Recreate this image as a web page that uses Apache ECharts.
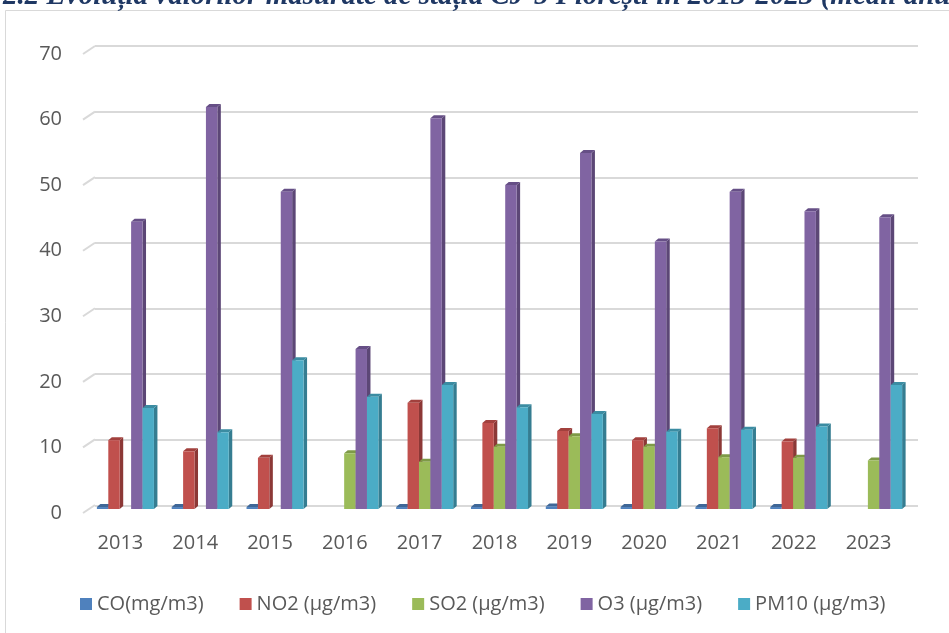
<!DOCTYPE html>
<html>
<head>
<meta charset="utf-8">
<script src="https://cdn.jsdelivr.net/npm/echarts@6/dist/echarts.min.js"></script>
<style>
html,body{margin:0;padding:0;background:#fff;}
#c{width:949px;height:633px;}
</style>
</head>
<body>
<div id="c"></div>
<script>
var years = ['2013','2014','2015','2016','2017','2018','2019','2020','2021','2022','2023'];
var seriesNames = ['CO(mg/m3)','NO2 (µg/m3)','SO2 (µg/m3)','O3 (µg/m3)','PM10 (µg/m3)'];
var coVals   = [0.3, 0.3, 0.3, null, 0.3, 0.3, 0.4, 0.3, 0.3, 0.3, null];
var no2Vals  = [10.5, 8.8, 7.8, null, 16.2, 13.1, 11.9, 10.5, 12.3, 10.3, null];
var so2Vals  = [null, null, null, 8.5, 7.2, 9.5, 11.1, 9.5, 7.9, 7.8, 7.4];
var o3Vals   = [43.8, 61.3, 48.4, 24.4, 59.6, 49.4, 54.3, 40.8, 48.4, 45.4, 44.5];
var pm10Vals = [15.4, 11.7, 22.7, 17.1, 18.9, 15.5, 14.5, 11.8, 12.1, 12.6, 18.9];
var yTicks = [0, 10, 20, 30, 40, 50, 60, 70];

var allVals = [coVals, no2Vals, so2Vals, o3Vals, pm10Vals];
var frontColors = ['#4F81BD','#C0504D','#9BBB59','#8064A2','#4BACC6'];
var sideColors  = ['#385D8A','#8C3836','#71893F','#5C4776','#357D91'];
var topColors   = ['#3F6797','#A2403D','#7E9A47','#664F86','#3B8CA2'];

var DX = 5, DY = -4;
var DEPTH_X = 3.5, DEPTH_Y = 3;

function makeRender(idx){
  return function(params, api){
    var cat = api.value(0), val = api.value(1);
    var base = api.coord([cat, 0]);
    var top = api.coord([cat, val]);
    var band = api.size([1, 0])[0];
    var bw = band * 0.1525;
    var x = base[0] - bw * 2.5 + idx * bw + DX;
    var yb = base[1] + DY, yt = top[1] + DY;
    var children = [];
    children.push({type:'polygon', shape:{points:[[x+bw,yt],[x+bw+DEPTH_X,yt-DEPTH_Y],[x+bw+DEPTH_X,yb-DEPTH_Y],[x+bw,yb]]},
      style:{fill:sideColors[idx]}});
    children.push({type:'polygon', shape:{points:[[x,yt],[x+bw,yt],[x+bw+DEPTH_X,yt-DEPTH_Y],[x+DEPTH_X,yt-DEPTH_Y]]},
      style:{fill:topColors[idx]}});
    children.push({type:'rect', shape:{x:x, y:yt, width:bw, height:Math.max(yb-yt,0)},
      style:{fill:frontColors[idx]}});
    return {type:'group', children:children};
  };
}

function stubRender(params, api){
  var v = api.value(0);
  var p = api.coord([0, v]);
  var x0 = params.coordSys.x;
  return {type:'line', shape:{x1:x0, y1:p[1], x2:x0+12, y2:p[1]-8},
    style:{stroke:'#d9d9d9', lineWidth:2}};
}

var series = [];
for (var s = 0; s < 5; s++) {
  var d = [];
  for (var i = 0; i < years.length; i++) {
    if (allVals[s][i] !== null) d.push([i, allVals[s][i]]);
  }
  series.push({
    type:'custom', name:seriesNames[s], xAxisIndex:0, yAxisIndex:0,
    renderItem:makeRender(s), data:d, itemStyle:{color:frontColors[s]},
    encode:{x:0, y:1}, z:5
  });
}
series.push({
  type:'custom', name:'stub', xAxisIndex:0, yAxisIndex:0, renderItem:stubRender,
  data:yTicks.map(function(t){return [t];}), encode:{y:0}, silent:true, z:1
});

var font = '"Open Sans", sans-serif';
var chart = echarts.init(document.getElementById('c'), null, {renderer:'canvas'});
chart.setOption({
  backgroundColor:'#ffffff',
  animation:false,
  graphic:[
    {type:'rect', shape:{x:5.5, y:10.5, width:1000, height:700}, style:{fill:'none', stroke:'#d9d9d9', lineWidth:1}, z:0},
    {type:'text', left:3, top:-18, style:{text:'2.2 Evoluția valorilor măsurate de stația CJ-5 Florești în 2013-2023 (medii anuale)', fill:'#1F3864', font:'italic bold 29px "Liberation Serif"'}}
  ],
  grid:[
    {left:83, right:43, top:54, bottom:120},
    {left:95, right:31, top:46, bottom:127.5}
  ],
  xAxis:[
    {type:'category', gridIndex:0, data:years, axisLine:{show:false}, axisTick:{show:false},
     axisLabel:{color:'#595959', fontSize:20, fontFamily:font, margin:20}},
    {type:'category', gridIndex:1, data:years, show:false}
  ],
  yAxis:[
    {type:'value', gridIndex:0, min:0, max:70, interval:10, splitLine:{show:false},
     axisLine:{show:false}, axisTick:{show:false},
     axisLabel:{color:'#595959', fontSize:20, fontFamily:font, margin:21}},
    {type:'value', gridIndex:1, min:0, max:70, interval:10, axisLabel:{show:false},
     axisLine:{show:false}, axisTick:{show:false},
     splitLine:{show:true, lineStyle:{color:'#d9d9d9', width:2}}}
  ],
  legend:{
    data:seriesNames, left:75, top:589, icon:'rect', itemWidth:12, itemHeight:12, itemGap:36,
    textStyle:{color:'#595959', fontSize:20, fontFamily:font}
  },
  series:series
});
</script>
</body>
</html>
